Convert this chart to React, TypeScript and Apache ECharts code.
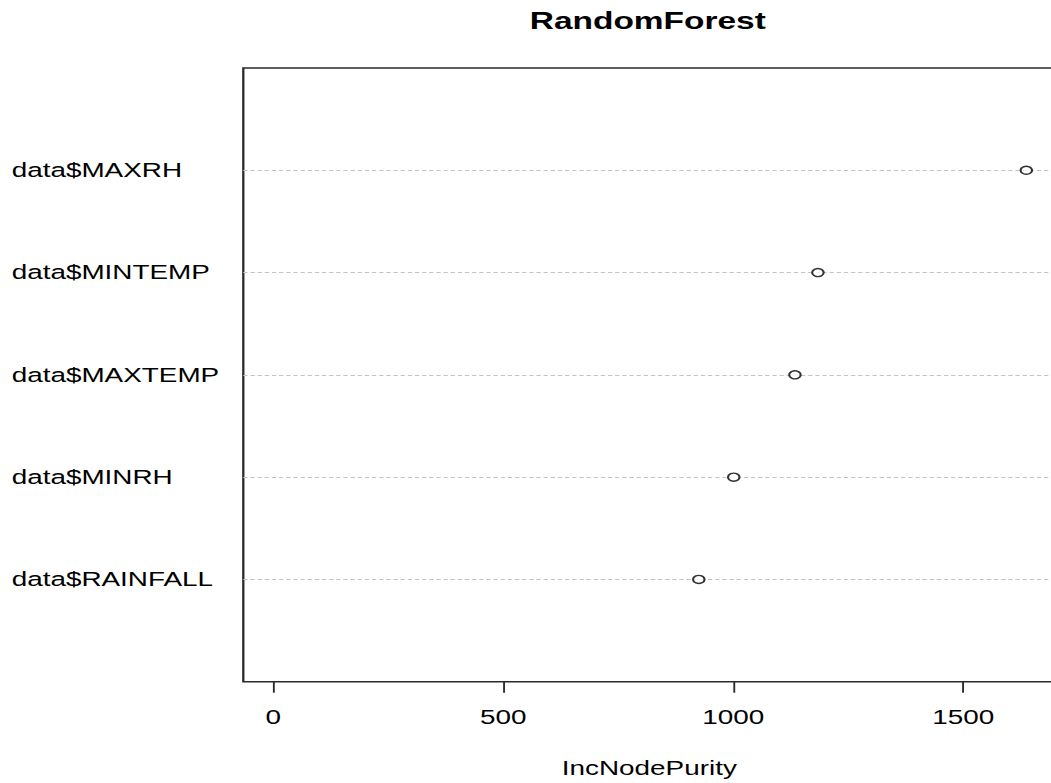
import React, { useEffect, useRef } from "react";
import * as echarts from "echarts";

// Variables (bottom to top, as plotted) and their importance (IncNodePurity)
const variables = ["data$RAINFALL", "data$MINRH", "data$MAXTEMP", "data$MINTEMP", "data$MAXRH"];
const incNodePurity = [925, 1001, 1134, 1184, 1637];
const xTicks = [0, 500, 1000, 1500];
const chartTitle = "RandomForest";
const xName = "IncNodePurity";

// The reference image is horizontally stretched; we draw in a narrower box and stretch it.
const STRETCH = 1.42993;
const BASE_W = 770;
const BASE_H = 783;
const FONT = "'Liberation Sans', Arial, sans-serif";

export default function App() {
  const ref = useRef<HTMLDivElement>(null);

  useEffect(() => {
    if (!ref.current) return;
    const chart = echarts.init(ref.current, undefined, { renderer: "svg" });
    const points = variables.map((name, i) => [incNodePurity[i], i + 1, name]);

    chart.setOption({
      animation: false,
      backgroundColor: "#ffffff",
      textStyle: { fontFamily: FONT },
      title: {
        text: chartTitle,
        left: 453,
        top: 9,
        padding: 0,
        textAlign: "center",
        textStyle: { fontFamily: FONT, fontSize: 23.4, fontWeight: "bold", color: "#000" },
      },
      grid: {
        left: 170.15,
        top: 68,
        width: 567.85,
        height: 613.7,
        show: true,
        borderColor: "#2a2a2a",
        borderWidth: 1.6,
        backgroundColor: "transparent",
      },
      xAxis: {
        type: "value",
        min: -65.2,
        max: 1700,
        name: xName,
        nameLocation: "middle",
        nameGap: 76,
        nameTextStyle: { fontFamily: FONT, fontSize: 19.5, color: "#000" },
        axisLine: { show: false },
        axisTick: {
          show: true,
          length: 11,
          inside: false,
          customValues: xTicks,
          lineStyle: { color: "#2a2a2a", width: 1.3 },
        },
        axisLabel: {
          show: true,
          customValues: xTicks,
          margin: 25,
          fontFamily: FONT,
          fontSize: 19.5,
          color: "#000",
          formatter: (v: number) => String(v),
        },
        splitLine: { show: false },
      },
      yAxis: {
        type: "value",
        min: 0,
        max: 6,
        interval: 1,
        axisLine: { show: false },
        axisTick: { show: false },
        axisLabel: {
          show: true,
          align: "left",
          margin: 162,
          fontFamily: FONT,
          fontSize: 19.5,
          color: "#000",
          formatter: (v: number) => (v >= 1 && v <= variables.length ? variables[v - 1] : ""),
        },
        splitLine: {
          show: true,
          showMinLine: false,
          showMaxLine: false,
          lineStyle: { color: "#c4c4c4", width: 1, type: [3, 2] },
        },
      },
      series: [
        {
          type: "scatter",
          data: points,
          symbol: "circle",
          symbolSize: 8,
          itemStyle: { color: "#ffffff", borderColor: "#000", borderWidth: 1.4 },
          z: 5,
        },
      ],
    });

    return () => chart.dispose();
  }, []);

  return (
    <div
      style={{
        position: "absolute",
        left: 0,
        top: 0,
        width: 1051,
        height: BASE_H,
        overflow: "hidden",
        background: "#fff",
      }}
    >
      <div
        ref={ref}
        style={{
          width: BASE_W,
          height: BASE_H,
          transform: `scaleX(${STRETCH})`,
          transformOrigin: "0 0",
        }}
      />
    </div>
  );
}
